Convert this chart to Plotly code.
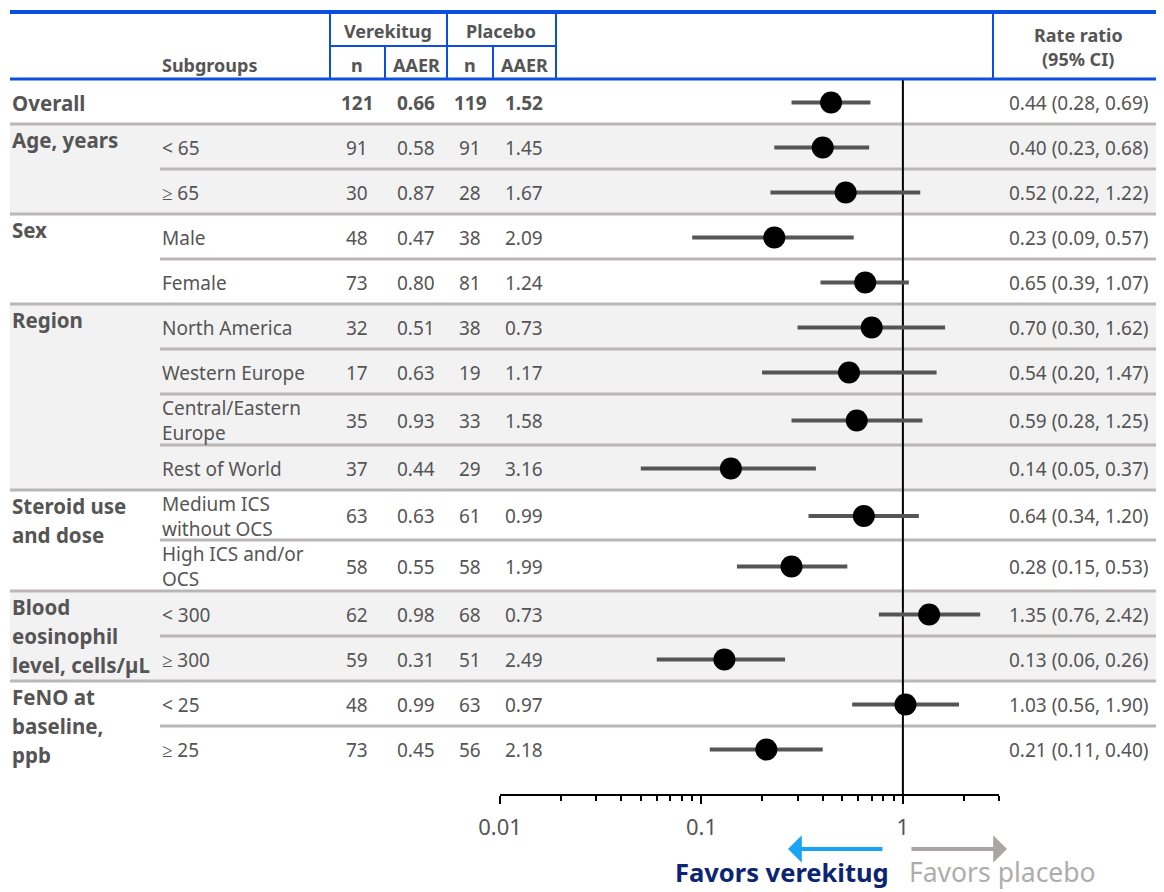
import math
import plotly.graph_objects as go

W, H = 1164, 892
OFF = 8  # page body margin compensation

# ---------------- data ----------------
group_labels = ["Overall", "Age, years", "Sex", "Region", "Steroid use\nand dose",
                "Blood\neosinophil\nlevel, cells/µL", "FeNO at\nbaseline,\nppb"]
row_group = [0, 1, 1, 2, 2, 3, 3, 3, 3, 4, 4, 5, 5, 6, 6]
subgroups = ["", "< 65", "≥ 65", "Male", "Female", "North America", "Western Europe",
             "Central/Eastern\nEurope", "Rest of World", "Medium ICS\nwithout OCS",
             "High ICS and/or\nOCS", "< 300", "≥ 300", "< 25", "≥ 25"]
ver_n = [121, 91, 30, 48, 73, 32, 17, 35, 37, 63, 58, 62, 59, 48, 73]
ver_aaer = [0.66, 0.58, 0.87, 0.47, 0.80, 0.51, 0.63, 0.93, 0.44, 0.63, 0.55, 0.98, 0.31, 0.99, 0.45]
pla_n = [119, 91, 28, 38, 81, 38, 19, 33, 29, 61, 58, 68, 51, 63, 56]
pla_aaer = [1.52, 1.45, 1.67, 2.09, 1.24, 0.73, 1.17, 1.58, 3.16, 0.99, 1.99, 0.73, 2.49, 0.97, 2.18]
rate_ratio = [0.44, 0.40, 0.52, 0.23, 0.65, 0.70, 0.54, 0.59, 0.14, 0.64, 0.28, 1.35, 0.13, 1.03, 0.21]
ci_low = [0.28, 0.23, 0.22, 0.09, 0.39, 0.30, 0.20, 0.28, 0.05, 0.34, 0.15, 0.76, 0.06, 0.56, 0.11]
ci_high = [0.69, 0.68, 1.22, 0.57, 1.07, 1.62, 1.47, 1.25, 0.37, 1.20, 0.53, 2.42, 0.26, 1.90, 0.40]
tick_vals = [0.01, 0.1, 1]
tick_text = ["0.01", "0.1", "1"]
minor_vals = [0.02, 0.03, 0.04, 0.05, 0.06, 0.07, 0.08, 0.09,
              0.2, 0.3, 0.4, 0.5, 0.6, 0.7, 0.8, 0.9, 2, 3]

# ---------------- layout geometry (screen pixels) ----------------
row_heights = [45, 45, 45, 45, 45, 45, 45, 51, 45, 50, 51, 45, 45, 45, 45]
header_bottom = 79
tops = []
yy = header_bottom
for h in row_heights:
    tops.append(yy)
    yy += h
bottoms = [t + h for t, h in zip(tops, row_heights)]
centers = [t + h / 2 + 1 for t, h in zip(tops, row_heights)]
axis_y = 795

BLUE = "#0a4fe0"
GRAY_TXT = "#555555"
LINE_GRAY = "#bab6b6"
SHADE = "#f2f2f2"
FONT = "Noto Sans"


def X(p):
    return (p - OFF) / W


def Y(p):
    return p - OFF


shapes = []
annotations = []

# shading by group
for g in range(len(group_labels)):
    idx = [i for i, gg in enumerate(row_group) if gg == g]
    if g % 2 == 1:
        shapes.append(dict(type="rect", xref="paper", yref="y", x0=X(10), x1=X(1170),
                           y0=Y(tops[idx[0]]), y1=Y(bottoms[idx[-1]]),
                           fillcolor=SHADE, line=dict(width=0), layer="below"))

# separator lines
for i in range(len(row_heights) - 1):
    same_group = row_group[i] == row_group[i + 1]
    x0 = X(160) if same_group else X(10)
    shapes.append(dict(type="line", xref="paper", yref="y", x0=x0, x1=X(1170),
                       y0=Y(bottoms[i]), y1=Y(bottoms[i]),
                       line=dict(color=LINE_GRAY, width=3), layer="below"))

# reference line at 1
shapes.append(dict(type="line", xref="x", yref="y", x0=1, x1=1, y0=Y(header_bottom),
                   y1=Y(axis_y), line=dict(color="black", width=2), layer="below"))

# header blue lines
shapes.append(dict(type="line", xref="paper", yref="y", x0=X(10), x1=X(1170), y0=Y(12), y1=Y(12),
                   line=dict(color=BLUE, width=4)))
shapes.append(dict(type="line", xref="paper", yref="y", x0=X(10), x1=X(1170),
                   y0=Y(header_bottom), y1=Y(header_bottom), line=dict(color=BLUE, width=3)))
shapes.append(dict(type="line", xref="paper", yref="y", x0=X(330), x1=X(556), y0=Y(46), y1=Y(46),
                   line=dict(color=BLUE, width=2)))
for xv in [330, 447, 556, 993]:
    shapes.append(dict(type="line", xref="paper", yref="y", x0=X(xv), x1=X(xv), y0=Y(12),
                       y1=Y(header_bottom), line=dict(color=BLUE, width=2)))
for xv in [385, 493]:
    shapes.append(dict(type="line", xref="paper", yref="y", x0=X(xv), x1=X(xv), y0=Y(46),
                       y1=Y(header_bottom), line=dict(color=BLUE, width=2)))


def txt(x, y, s, size=19, bold=False, color=GRAY_TXT, anchor="center"):
    annotations.append(dict(x=X(x), y=Y(y), xref="paper", yref="y", text=s, showarrow=False,
                            xanchor=anchor, yanchor="middle",
                            font=dict(family=FONT, size=size, color=color,
                                      weight="bold" if bold else "normal")))


# header text
HS = 18
txt(388, 31, "Verekitug", size=HS, bold=True)
txt(501, 31, "Placebo", size=HS, bold=True)
for xv, s in [(357, "n"), (416, "AAER"), (470, "n"), (524, "AAER")]:
    txt(xv, 65, s, size=HS, bold=True)
txt(160, 65, "Subgroups", size=HS, bold=True, anchor="left")
txt(1078, 35, "Rate ratio", size=HS, bold=True)
txt(1078, 59, "(95% CI)", size=HS, bold=True)

# group labels
GS = 20.5
for g, lab in enumerate(group_labels):
    idx = [i for i, gg in enumerate(row_group) if gg == g]
    if g == 0:
        txt(10, centers[0], lab, size=GS, bold=True, anchor="left")
        continue
    for k, line in enumerate(lab.split("\n")):
        txt(10, tops[idx[0]] + 16 + 29 * k, line, size=GS, bold=True, anchor="left")

# row text
for i in range(len(row_heights)):
    c = centers[i]
    lines = subgroups[i].split("\n")
    if lines[0]:
        if len(lines) == 1:
            txt(160, c, lines[0], anchor="left")
        else:
            for k, line in enumerate(lines):
                txt(160, c - 12.5 + 25 * k, line, anchor="left")
    b = (i == 0)
    txt(357, c, f"{ver_n[i]}", bold=b)
    txt(416, c, f"{ver_aaer[i]:.2f}", bold=b)
    txt(470, c, f"{pla_n[i]}", bold=b)
    txt(524, c, f"{pla_aaer[i]:.2f}", bold=b)
    txt(1078, c, f"{rate_ratio[i]:.2f} ({ci_low[i]:.2f}, {ci_high[i]:.2f})")

# favors arrows and labels
annotations.append(dict(x=X(788), y=Y(849), ax=96, ay=0, xref="paper", yref="y",
                        axref="pixel", ayref="pixel", text="", showarrow=True, arrowhead=1,
                        arrowsize=1.15, arrowwidth=4, arrowcolor="#19a4f5"))
annotations.append(dict(x=X(1007), y=Y(849), ax=-97, ay=0, xref="paper", yref="y",
                        axref="pixel", ayref="pixel", text="", showarrow=True, arrowhead=1,
                        arrowsize=1.15, arrowwidth=4, arrowcolor="#aaa6a6"))
txt(891, 872, "Favors verekitug", size=25.5, bold=True, color="#0b2572", anchor="right")
txt(907, 872, "Favors placebo", size=26.5, color="#b0acac", anchor="left")

fig = go.Figure()
fig.add_trace(go.Scatter(
    x=rate_ratio, y=[Y(c) for c in centers], mode="markers",
    marker=dict(size=22, color="black"),
    error_x=dict(type="data", symmetric=False,
                 array=[h - r for h, r in zip(ci_high, rate_ratio)],
                 arrayminus=[r - l for r, l in zip(rate_ratio, ci_low)],
                 thickness=4, width=0, color="#555555"),
    cliponaxis=False, hoverinfo="skip", showlegend=False))

fig.update_layout(
    width=W, height=H, margin=dict(l=0, r=0, t=0, b=0, pad=0, autoexpand=False),
    paper_bgcolor="white", plot_bgcolor="rgba(0,0,0,0)",
    shapes=shapes, annotations=annotations, showlegend=False,
    xaxis=dict(type="log", range=[math.log10(0.01), math.log10(3)],
               domain=[X(500), X(999)], anchor="free", position=(H - Y(axis_y)) / H,
               automargin=False,
               showgrid=False, zeroline=False, showline=True, linecolor="black", linewidth=2,
               tickmode="array", tickvals=tick_vals, ticktext=tick_text,
               ticks="outside", ticklen=8, tickwidth=2, tickcolor="black",
               ticklabelstandoff=5,
               tickfont=dict(family=FONT, size=22, color=GRAY_TXT),
               minor=dict(tickmode="array", tickvals=minor_vals, ticks="outside",
                          ticklen=5, tickwidth=2, tickcolor="black", showgrid=False)),
    yaxis=dict(range=[H, 0], domain=[0, 1], visible=False, automargin=False,
               showgrid=False, zeroline=False),
)

fig.write_html("out.html")
